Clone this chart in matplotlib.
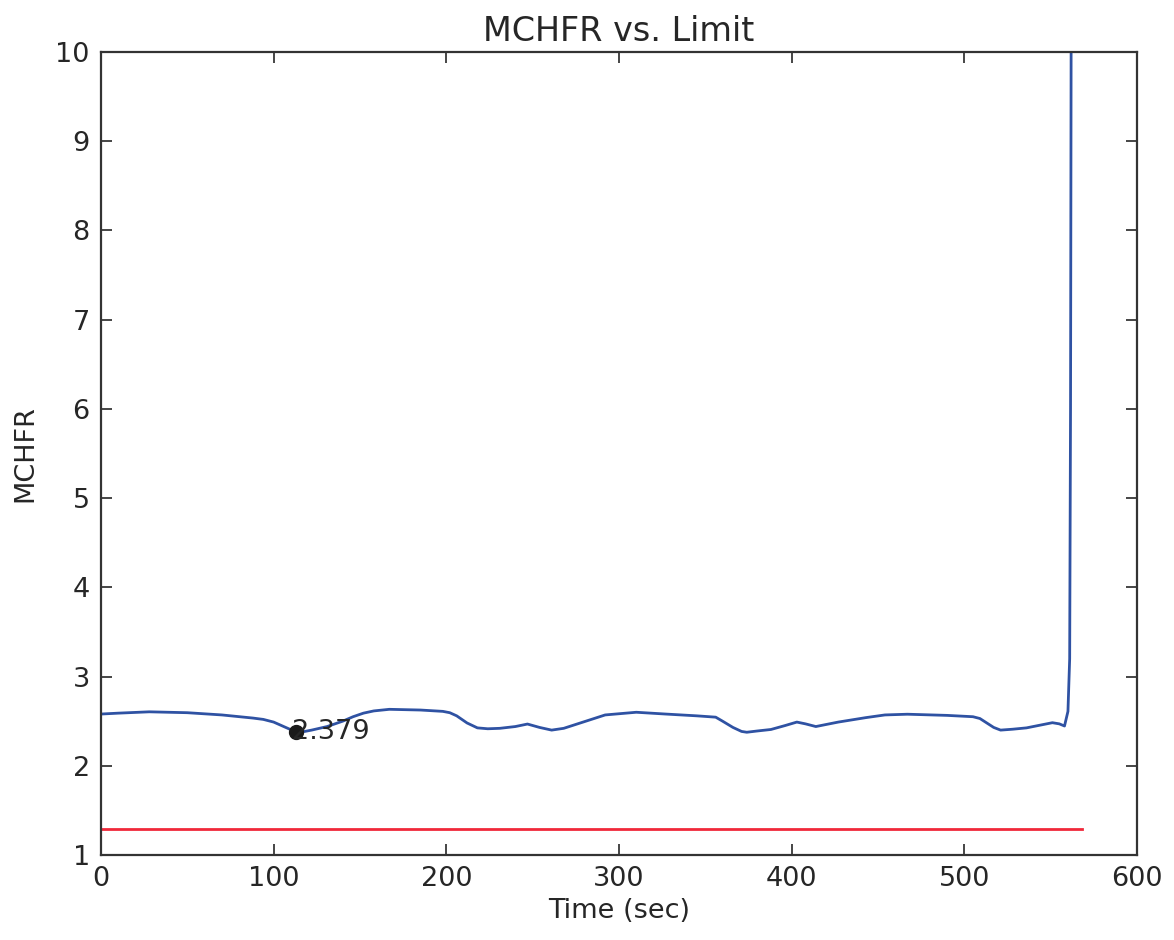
import numpy as np
import matplotlib
matplotlib.use('Agg')
from matplotlib import pyplot as plt

# MCHFR trace
time_sec = [0, 10, 28, 50, 70, 88, 94, 100, 107, 113, 118, 122, 131, 140, 146,
            152, 158, 167, 185, 198, 202, 206, 212, 218, 224, 231, 240, 247,
            254, 261, 268, 276, 292, 310, 327, 345, 356, 360, 366, 371, 374,
            380, 388, 396, 403, 408, 414, 427, 443, 454, 467, 490, 505, 509,
            513, 517, 521, 528, 536, 551, 555, 558, 560, 561, 561.5, 562,
            565, 568]
mchfr = [2.58, 2.59, 2.605, 2.595, 2.57, 2.535, 2.52, 2.49, 2.43, 2.379,
         2.385, 2.40, 2.44, 2.50, 2.55, 2.59, 2.615, 2.633, 2.625, 2.61,
         2.595, 2.56, 2.48, 2.425, 2.415, 2.42, 2.44, 2.468, 2.43, 2.40,
         2.42, 2.47, 2.57, 2.60, 2.58, 2.56, 2.545, 2.50, 2.43, 2.385,
         2.376, 2.39, 2.407, 2.45, 2.49, 2.47, 2.44, 2.49, 2.54, 2.57, 2.578,
         2.565, 2.55, 2.53, 2.48, 2.43, 2.40, 2.41, 2.425, 2.483, 2.47,
         2.446, 2.61, 3.2, 6.0, 12.0, 30.0, 50.0]

limit_time = [0, 568]
limit_value = [1.29, 1.29]

min_time = 113
min_value = 2.379

text_color = '#262626'
plt.rcParams['font.family'] = 'DejaVu Sans'
plt.rcParams['text.color'] = text_color
plt.rcParams['axes.labelcolor'] = text_color
plt.rcParams['xtick.color'] = text_color
plt.rcParams['ytick.color'] = text_color

fig = plt.figure(figsize=(11.74, 9.4), dpi=100)
ax = fig.add_axes([0.086, 0.0904, 0.8825, 0.8543])

ax.plot(time_sec, mchfr, color='#2f52a3', lw=2)
ax.plot(limit_time, limit_value, color='#f0283a', lw=2)
ax.plot([min_time], [min_value], 'o', color='#1a1a1a', ms=10)
ax.annotate('%.3f' % min_value, (min_time, min_value), xytext=(-3, 0),
            textcoords='offset points', va='center', fontsize=19.5)

ax.set_xlim(0, 600)
ax.set_ylim(1, 10)
ax.set_xticks(np.arange(0, 601, 100))
ax.set_yticks(np.arange(1, 11, 1))
ax.tick_params(direction='in', top=True, right=True, length=8, width=1.2,
               labelsize=19.5, pad=8)
for spine in ax.spines.values():
    spine.set_linewidth(1.6)
    spine.set_color('#333333')

ax.set_title('MCHFR vs. Limit', fontsize=24, pad=8)
ax.set_xlabel('Time (sec)', fontsize=19.5)
ax.set_ylabel('MCHFR', fontsize=19.5, labelpad=12)

fig.savefig('out.png', dpi=100)
